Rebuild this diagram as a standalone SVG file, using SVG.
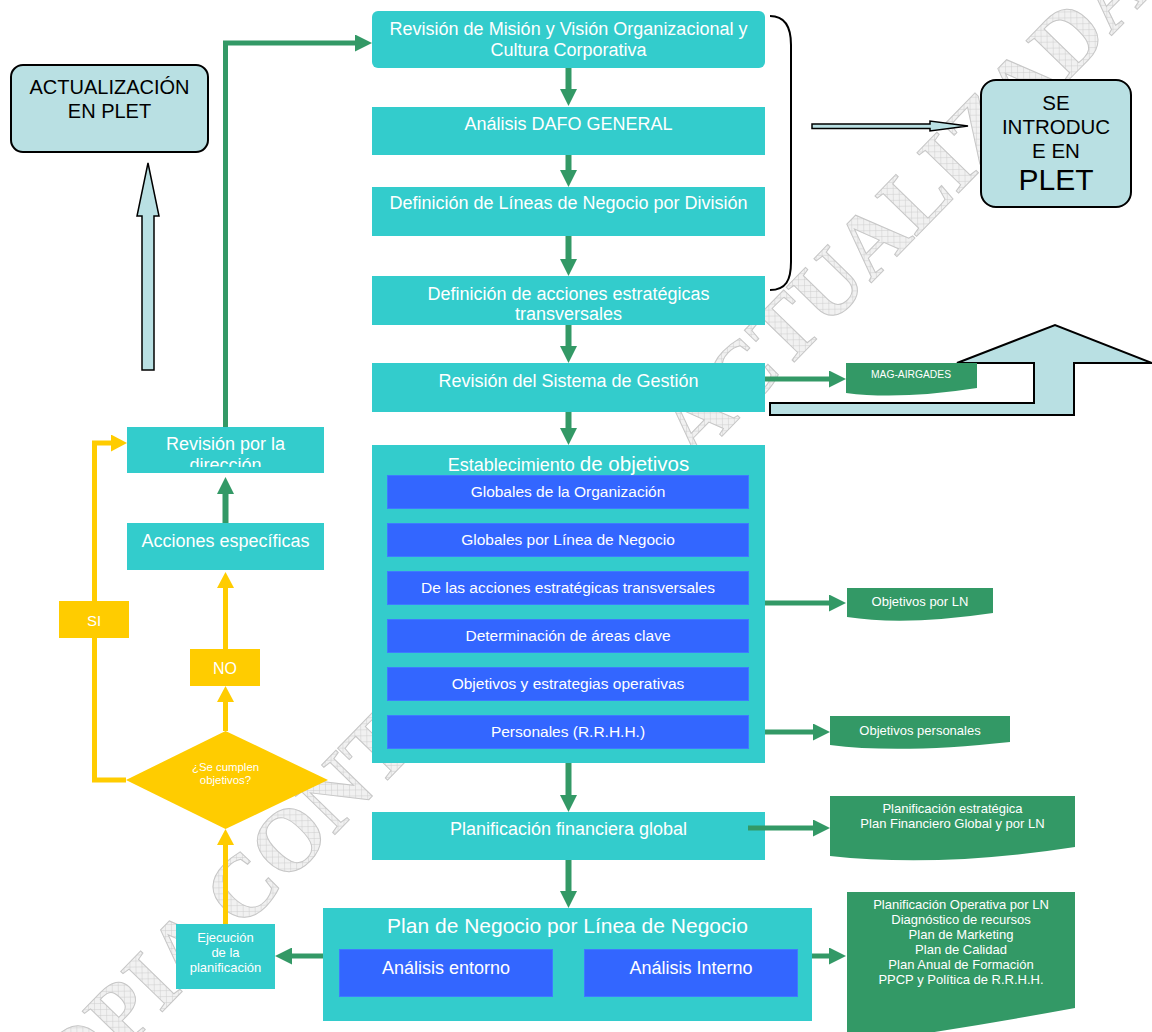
<svg xmlns="http://www.w3.org/2000/svg" width="1152" height="1032" viewBox="0 0 1152 1032">
  <style>
    .t { font-family: "Liberation Sans", Arial, sans-serif; fill: #ffffff; text-anchor: middle; }
    .k { font-family: "Liberation Sans", Arial, sans-serif; fill: #000000; text-anchor: middle; }
    .teal { fill: #33CCCC; }
    .blue { fill: #3366FF; stroke: #3D7BFF; stroke-width: 1; }
    .doc { fill: #339966; }
    .pale { fill: #B9E0E3; stroke: #000000; stroke-width: 2; stroke-linejoin: miter; }
    .yel { fill: #FFCC00; }
    .g { fill: none; stroke: #339966; stroke-width: 6; }
    .gh { fill: none; stroke: #339966; stroke-width: 5; }
    .y { fill: none; stroke: #FFCC00; stroke-width: 5; }
    .wm { font-family: "Liberation Serif", "Times New Roman", serif; font-weight: bold; fill: url(#hatch); stroke: #c6c6c6; stroke-width: 1; }
  </style>
  <defs>
    <marker id="ag" markerUnits="userSpaceOnUse" markerWidth="17" markerHeight="17" refX="0" refY="8.5" orient="auto" viewBox="0 0 17 17">
      <path d="M0,0 L17,8.5 L0,17 Z" fill="#339966"/>
    </marker>
    <marker id="ay" markerUnits="userSpaceOnUse" markerWidth="16" markerHeight="17" refX="0" refY="8.5" orient="auto" viewBox="0 0 16 17">
      <path d="M0,0 L16,8.5 L0,17 Z" fill="#FFCC00"/>
    </marker>
    <pattern id="hatch" width="6" height="6" patternUnits="userSpaceOnUse" patternTransform="rotate(45)">
      <rect width="6" height="6" fill="#f1f1f1"/>
      <path d="M0,0H6M0,0V6" stroke="#cdcdcd" stroke-width="1"/>
    </pattern>
    <clipPath id="clipDir">
      <rect x="127" y="427" width="197" height="40"/>
    </clipPath>
  </defs>

  <rect width="1152" height="1032" fill="#ffffff"/>

  <!-- watermark stamp -->
  <g id="watermark">
    <text class="wm" font-size="88.6" transform="translate(30,1148) rotate(-45.8)">COPIA CONTROLADA ACTUALIZADA</text>
  </g>

  <!-- main column -->
  <g id="mision">
    <rect class="teal" x="372" y="11" width="393" height="57" rx="6"/>
    <text class="t" font-size="18" x="568.5" y="35">Revisión de Misión y Visión Organizacional y</text>
    <text class="t" font-size="18" x="568.5" y="56">Cultura Corporativa</text>
  </g>
  <g id="dafo">
    <rect class="teal" x="372" y="107" width="393" height="48"/>
    <text class="t" font-size="18" x="568.5" y="130">Análisis DAFO GENERAL</text>
  </g>
  <g id="lineas">
    <rect class="teal" x="372" y="187" width="393" height="49"/>
    <text class="t" font-size="18" x="568.5" y="209">Definición de Líneas de Negocio por División</text>
  </g>
  <g id="acciones-transversales">
    <rect class="teal" x="372" y="276" width="393" height="49"/>
    <text class="t" font-size="18" x="568.5" y="300">Definición de acciones estratégicas</text>
    <text class="t" font-size="18" x="568.5" y="320">transversales</text>
  </g>
  <g id="sistema-gestion">
    <rect class="teal" x="372" y="363" width="393" height="49"/>
    <text class="t" font-size="18" x="568.5" y="387">Revisión del Sistema de Gestión</text>
  </g>
  <g id="objetivos">
    <rect class="teal" x="372" y="445" width="393" height="318"/>
    <text class="t" font-size="18" x="568.5" y="471">Establecimiento <tspan font-size="20.5">de objetivos</tspan></text>
    <rect class="blue" x="387.5" y="475.5" width="361" height="33"/>
    <text class="t" font-size="15.5" x="568" y="497">Globales de la Organización</text>
    <rect class="blue" x="387.5" y="523.5" width="361" height="33"/>
    <text class="t" font-size="15.5" x="568" y="545">Globales por Línea de Negocio</text>
    <rect class="blue" x="387.5" y="571.5" width="361" height="33"/>
    <text class="t" font-size="15.5" x="568" y="593">De las acciones estratégicas transversales</text>
    <rect class="blue" x="387.5" y="619.5" width="361" height="33"/>
    <text class="t" font-size="15.5" x="568" y="641">Determinación de áreas clave</text>
    <rect class="blue" x="387.5" y="667.5" width="361" height="33"/>
    <text class="t" font-size="15.5" x="568" y="689">Objetivos y estrategias operativas</text>
    <rect class="blue" x="387.5" y="715.5" width="361" height="33"/>
    <text class="t" font-size="15.5" x="568" y="737">Personales (R.R.H.H.)</text>
  </g>
  <g id="financiera">
    <rect class="teal" x="372" y="812" width="393" height="48"/>
    <text class="t" font-size="18" x="568.5" y="835">Planificación financiera global</text>
  </g>
  <g id="plan-negocio">
    <rect class="teal" x="323" y="908" width="489" height="113"/>
    <text class="t" font-size="21" x="567.5" y="933">Plan de Negocio por Línea de Negocio</text>
    <rect class="blue" x="339.5" y="949.5" width="213" height="47"/>
    <text class="t" font-size="18" x="446" y="974">Análisis entorno</text>
    <rect class="blue" x="584.5" y="949.5" width="213" height="47"/>
    <text class="t" font-size="18" x="691" y="974">Análisis Interno</text>
  </g>

  <!-- left loop -->
  <g id="revision-direccion">
    <rect class="teal" x="127" y="427" width="197" height="46"/>
    <g clip-path="url(#clipDir)">
      <text class="t" font-size="18" x="225.5" y="450">Revisión por la</text>
      <text class="t" font-size="18" x="225.5" y="471">dirección</text>
    </g>
  </g>
  <g id="acciones-especificas">
    <rect class="teal" x="127" y="523" width="197" height="47"/>
    <text class="t" font-size="18" x="225.5" y="547">Acciones específicas</text>
  </g>
  <g id="decision">
    <polygon class="yel" points="126,780 225.5,731 328,780 225.5,829"/>
    <text class="t" font-size="11.4" x="225.5" y="771">¿Se cumplen</text>
    <text class="t" font-size="11.4" x="225.5" y="784">objetivos?</text>
  </g>
  <g id="ejecucion">
    <rect class="teal" x="176" y="924" width="99" height="65"/>
    <text class="t" font-size="13" x="225.5" y="942">Ejecución</text>
    <text class="t" font-size="13" x="225.5" y="957">de la</text>
    <text class="t" font-size="13" x="225.5" y="972">planificación</text>
  </g>

  <!-- PLET boxes -->
  <g id="actualizacion-plet">
    <rect class="pale" x="11" y="65" width="197" height="87" rx="12"/>
    <text class="k" font-size="20" x="109.5" y="94">ACTUALIZACIÓN</text>
    <text class="k" font-size="20" x="109.5" y="118">EN PLET</text>
  </g>
  <g id="introduce-plet">
    <rect class="pale" x="981" y="80" width="150" height="127" rx="15"/>
    <text class="k" font-size="20.5" x="1056" y="110">SE</text>
    <text class="k" font-size="20.5" x="1056" y="134">INTRODUC</text>
    <text class="k" font-size="20.5" x="1056" y="158">E EN</text>
    <text class="k" font-size="30" x="1056" y="190">PLET</text>
  </g>

  <!-- connectors -->
  <g id="connectors">
    <path class="g" d="M568.5,68 V89" marker-end="url(#ag)"/>
    <path class="g" d="M568.5,155 V170" marker-end="url(#ag)"/>
    <path class="g" d="M568.5,236 V259" marker-end="url(#ag)"/>
    <path class="g" d="M568.5,325 V346" marker-end="url(#ag)"/>
    <path class="g" d="M568.5,412 V428" marker-end="url(#ag)"/>
    <path class="g" d="M568.5,763 V795" marker-end="url(#ag)"/>
    <path class="g" d="M568.5,860 V891" marker-end="url(#ag)"/>
    <path class="gh" d="M765,379 H829" marker-end="url(#ag)"/>
    <path class="gh" d="M765,603 H829" marker-end="url(#ag)"/>
    <path class="gh" d="M765,732 H813" marker-end="url(#ag)"/>
    <path class="gh" d="M748,828 H813" marker-end="url(#ag)"/>
    <path class="gh" d="M812,956 H829" marker-end="url(#ag)"/>
    <path class="gh" d="M323,956 H292" marker-end="url(#ag)"/>
    <path class="g" d="M225.5,523 V494" marker-end="url(#ag)"/>
    <path class="gh" d="M225.5,427 V43 H355" marker-end="url(#ag)"/>
    <path class="y" d="M225.5,924 V845" marker-end="url(#ay)"/>
    <path class="y" d="M225.5,731 V702" marker-end="url(#ay)"/>
    <path class="y" d="M225.5,649 V588" marker-end="url(#ay)"/>
    <path class="y" d="M126,780 H94.5 V443 H111" marker-end="url(#ay)"/>
    <!-- bracket and outline arrows -->
    <path d="M770,16 C786,16 791,28 791,45 V262 C791,280 786,290 770,290" fill="none" stroke="#000" stroke-width="2"/>
    <polygon class="pale" style="stroke-width:1.5" points="812,124 930,124 930,121 968,126 930,131 930,128.5 812,128.5"/>
    <polygon class="pale" style="stroke-width:1.5" points="142,370 142,216 137,216 148,163 159,216 154,216 154,370"/>
    <polygon class="pale" points="770,403 1034,403 1034,363 957,363 1055,325 1152,363 1074,363 1074,415 770,415"/>
  </g>

  <!-- decision labels sitting on the yellow lines -->
  <g id="si">
    <rect class="yel" x="59" y="601" width="70" height="37"/>
    <text class="t" font-size="15" x="94" y="626">SI</text>
  </g>
  <g id="no">
    <rect class="yel" x="190" y="649" width="70" height="37"/>
    <text class="t" font-size="16" x="225" y="674">NO</text>
  </g>

  <!-- output documents -->
  <g id="mag-airgades">
    <path class="doc" d="M846,363 H977 V388 Q900,400 846,393 Z"/>
    <text class="t" font-size="10.3" x="911" y="378">MAG-AIRGADES</text>
  </g>
  <g id="objetivos-ln">
    <path class="doc" d="M847,588 H993 V613 Q905,626 847,617 Z"/>
    <text class="t" font-size="13" x="920" y="606">Objetivos por LN</text>
  </g>
  <g id="objetivos-personales">
    <path class="doc" d="M830,716 H1010 V742 Q900,754 830,745 Z"/>
    <text class="t" font-size="13" x="920" y="735">Objetivos personales</text>
  </g>
  <g id="plan-estrategico">
    <path class="doc" d="M830,796 H1075 V847 Q940,868 830,856 Z"/>
    <text class="t" font-size="13" x="952.5" y="813">Planificación estratégica</text>
    <text class="t" font-size="13" x="952.5" y="828">Plan Financiero Global y por LN</text>
  </g>
  <g id="plan-operativo">
    <path class="doc" d="M847,892 H1075 V1008 Q955,1030 847,1045 Z"/>
    <text class="t" font-size="13" x="961" y="909">Planificación Operativa por LN</text>
    <text class="t" font-size="13" x="961" y="924">Diagnóstico de recursos</text>
    <text class="t" font-size="13" x="961" y="939">Plan de Marketing</text>
    <text class="t" font-size="13" x="961" y="954">Plan de Calidad</text>
    <text class="t" font-size="13" x="961" y="969">Plan Anual de Formación</text>
    <text class="t" font-size="13" x="961" y="984">PPCP y Política de R.R.H.H.</text>
  </g>
</svg>
